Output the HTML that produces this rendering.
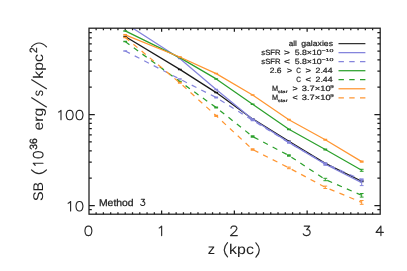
<!DOCTYPE html>
<html><head><meta charset="utf-8"><title>plot</title>
<style>
html,body{margin:0;padding:0;background:#fff;}
body{width:407px;height:271px;overflow:hidden;}
svg{display:block;will-change:transform;}
text{font-family:"Liberation Sans",sans-serif;fill:#222;text-rendering:geometricPrecision;}
</style></head><body>
<svg width="407" height="271" viewBox="0 0 407 271">
<rect x="0" y="0" width="407" height="271" fill="#ffffff"/>
<defs><clipPath id="c"><rect x="88.8" y="28.2" width="291.4" height="186.0"/></clipPath></defs>
<g clip-path="url(#c)" fill="none" stroke-linejoin="round">
<polyline points="125.2,36.5 179.8,69.4 216.2,92.6 252.6,118.9 288.9,141.2 325.3,163.4 361.7,181.3" stroke="#1a1a1a" stroke-width="1.25"/>
<path d="M123.3 36.5H127.1" stroke="#1a1a1a" stroke-width="1.5"/>
<path d="M177.9 69.4H181.7" stroke="#1a1a1a" stroke-width="1.5"/>
<path d="M214.3 92.6H218.1" stroke="#1a1a1a" stroke-width="1.5"/>
<path d="M250.7 118.9H254.5" stroke="#1a1a1a" stroke-width="1.5"/>
<path d="M287.0 141.2H290.8" stroke="#1a1a1a" stroke-width="1.5"/>
<path d="M323.4 163.4H327.2" stroke="#1a1a1a" stroke-width="1.5"/>
<path d="M359.8 181.3H363.6" stroke="#1a1a1a" stroke-width="2.1"/>
<polyline points="125.2,23.3 179.8,58.5 216.2,89.5 252.6,119.3 288.9,142.4 325.3,164.3 361.7,182.6" stroke="#8484dc" stroke-width="1.25"/>
<path d="M123.3 23.3H127.1" stroke="#8484dc" stroke-width="1.5"/>
<path d="M177.9 58.5H181.7" stroke="#8484dc" stroke-width="1.5"/>
<path d="M214.3 89.5H218.1" stroke="#8484dc" stroke-width="1.5"/>
<path d="M250.7 119.3H254.5" stroke="#8484dc" stroke-width="2.0"/>
<path d="M287.0 142.4H290.8" stroke="#8484dc" stroke-width="2.1"/>
<path d="M325.3 163.3V165.3M323.4 163.3H327.2M323.4 165.3H327.2" stroke="#8484dc" stroke-width="1"/>
<path d="M361.7 179.6V185.6M359.8 179.6H363.6M359.8 185.6H363.6" stroke="#8484dc" stroke-width="1"/>
<polyline points="125.2,51.0 179.8,79.1 216.2,97.5 252.6,120.3 288.9,142.6 325.3,163.6 361.7,179.9" stroke="#8484dc" stroke-width="1.25" stroke-dasharray="5.3 5.38"/>
<path d="M123.3 51.0H127.1" stroke="#8484dc" stroke-width="1.5"/>
<path d="M177.9 79.1H181.7" stroke="#8484dc" stroke-width="1.5"/>
<path d="M214.3 97.5H218.1" stroke="#8484dc" stroke-width="2.0"/>
<path d="M250.7 120.3H254.5" stroke="#8484dc" stroke-width="2.0"/>
<path d="M287.0 142.6H290.8" stroke="#8484dc" stroke-width="2.0"/>
<path d="M323.4 163.6H327.2" stroke="#8484dc" stroke-width="2.3"/>
<path d="M361.7 178.9V180.9M359.8 178.9H363.6M359.8 180.9H363.6" stroke="#8484dc" stroke-width="1"/>
<polyline points="125.2,30.9 179.8,57.6 216.2,78.9 252.6,104.3 288.9,129.3 325.3,149.5 361.7,170.3" stroke="#2ca02c" stroke-width="1.25"/>
<path d="M123.3 30.9H127.1" stroke="#2ca02c" stroke-width="1.5"/>
<path d="M177.9 57.6H181.7" stroke="#2ca02c" stroke-width="1.5"/>
<path d="M214.3 78.9H218.1" stroke="#2ca02c" stroke-width="1.5"/>
<path d="M250.7 104.3H254.5" stroke="#2ca02c" stroke-width="1.5"/>
<path d="M287.0 129.3H290.8" stroke="#2ca02c" stroke-width="1.8"/>
<path d="M323.4 149.5H327.2" stroke="#2ca02c" stroke-width="2.1"/>
<path d="M361.7 169.3V171.3M359.8 169.3H363.6M359.8 171.3H363.6" stroke="#2ca02c" stroke-width="1"/>
<polyline points="125.2,41.5 179.8,81.5 216.2,107.6 252.6,136.5 288.9,155.5 325.3,179.5 361.7,195.3" stroke="#2ca02c" stroke-width="1.25" stroke-dasharray="5.3 5.38"/>
<path d="M123.3 41.5H127.1" stroke="#2ca02c" stroke-width="1.5"/>
<path d="M177.9 81.5H181.7" stroke="#2ca02c" stroke-width="1.5"/>
<path d="M214.3 107.6H218.1" stroke="#2ca02c" stroke-width="2.0"/>
<path d="M250.7 136.5H254.5" stroke="#2ca02c" stroke-width="2.3"/>
<path d="M287.0 155.5H290.8" stroke="#2ca02c" stroke-width="2.5"/>
<path d="M325.3 178.3V180.7M323.4 178.3H327.2M323.4 180.7H327.2" stroke="#2ca02c" stroke-width="1"/>
<path d="M361.7 193.5V197.1M359.8 193.5H363.6M359.8 197.1H363.6" stroke="#2ca02c" stroke-width="1"/>
<polyline points="125.2,34.8 179.8,57.0 216.2,73.6 252.6,95.0 288.9,119.7 325.3,139.7 361.7,161.6" stroke="#ff9632" stroke-width="1.25"/>
<path d="M123.3 34.8H127.1" stroke="#ff9632" stroke-width="1.5"/>
<path d="M177.9 57.0H181.7" stroke="#ff9632" stroke-width="1.5"/>
<path d="M214.3 73.6H218.1" stroke="#ff9632" stroke-width="1.5"/>
<path d="M250.7 95.0H254.5" stroke="#ff9632" stroke-width="1.5"/>
<path d="M287.0 119.7H290.8" stroke="#ff9632" stroke-width="1.8"/>
<path d="M323.4 139.7H327.2" stroke="#ff9632" stroke-width="2.0"/>
<path d="M359.8 161.6H363.6" stroke="#ff9632" stroke-width="2.3"/>
<polyline points="125.2,37.4 179.8,82.8 216.2,115.8 252.6,149.5 288.9,167.9 325.3,187.3 361.7,202.4" stroke="#ff9632" stroke-width="1.25" stroke-dasharray="5.3 5.38"/>
<path d="M123.3 37.4H127.1" stroke="#ff9632" stroke-width="1.5"/>
<path d="M177.9 82.8H181.7" stroke="#ff9632" stroke-width="2.0"/>
<path d="M214.3 115.8H218.1" stroke="#ff9632" stroke-width="2.3"/>
<path d="M250.7 149.5H254.5" stroke="#ff9632" stroke-width="2.5"/>
<path d="M288.9 167.1V168.7M287.0 167.1H290.8M287.0 168.7H290.8" stroke="#ff9632" stroke-width="1"/>
<path d="M325.3 186.1V188.5M323.4 186.1H327.2M323.4 188.5H327.2" stroke="#ff9632" stroke-width="1"/>
<path d="M361.7 200.5V204.3M359.8 200.5H363.6M359.8 204.3H363.6" stroke="#ff9632" stroke-width="1"/>
</g>
<g stroke="#1c1c1c" stroke-width="1.25" fill="none">
<rect x="89.00" y="28.20" width="291.20" height="186.00"/>
<path d="M96.13 214.2v-2.0M96.13 28.2v2.0M103.40 214.2v-2.0M103.40 28.2v2.0M110.68 214.2v-2.0M110.68 28.2v2.0M117.95 214.2v-2.0M117.95 28.2v2.0M125.23 214.2v-2.0M125.23 28.2v2.0M132.51 214.2v-2.0M132.51 28.2v2.0M139.78 214.2v-2.0M139.78 28.2v2.0M147.06 214.2v-2.0M147.06 28.2v2.0M154.34 214.2v-2.0M154.34 28.2v2.0M161.61 214.2v-3.6M161.61 28.2v3.6M168.89 214.2v-2.0M168.89 28.2v2.0M176.16 214.2v-2.0M176.16 28.2v2.0M183.44 214.2v-2.0M183.44 28.2v2.0M190.72 214.2v-2.0M190.72 28.2v2.0M197.99 214.2v-2.0M197.99 28.2v2.0M205.27 214.2v-2.0M205.27 28.2v2.0M212.55 214.2v-2.0M212.55 28.2v2.0M219.82 214.2v-2.0M219.82 28.2v2.0M227.10 214.2v-2.0M227.10 28.2v2.0M234.37 214.2v-3.6M234.37 28.2v3.6M241.65 214.2v-2.0M241.65 28.2v2.0M248.93 214.2v-2.0M248.93 28.2v2.0M256.20 214.2v-2.0M256.20 28.2v2.0M263.48 214.2v-2.0M263.48 28.2v2.0M270.76 214.2v-2.0M270.76 28.2v2.0M278.03 214.2v-2.0M278.03 28.2v2.0M285.31 214.2v-2.0M285.31 28.2v2.0M292.58 214.2v-2.0M292.58 28.2v2.0M299.86 214.2v-2.0M299.86 28.2v2.0M307.14 214.2v-3.6M307.14 28.2v3.6M314.41 214.2v-2.0M314.41 28.2v2.0M321.69 214.2v-2.0M321.69 28.2v2.0M328.97 214.2v-2.0M328.97 28.2v2.0M336.24 214.2v-2.0M336.24 28.2v2.0M343.52 214.2v-2.0M343.52 28.2v2.0M350.79 214.2v-2.0M350.79 28.2v2.0M358.07 214.2v-2.0M358.07 28.2v2.0M365.35 214.2v-2.0M365.35 28.2v2.0M372.62 214.2v-2.0M372.62 28.2v2.0M89.0 209.66h2.8M380.2 209.66h-2.8M89.0 205.50h5.8M380.2 205.50h-5.8M89.0 178.14h2.8M380.2 178.14h-2.8M89.0 162.13h2.8M380.2 162.13h-2.8M89.0 150.77h2.8M380.2 150.77h-2.8M89.0 141.96h2.8M380.2 141.96h-2.8M89.0 134.77h2.8M380.2 134.77h-2.8M89.0 128.68h2.8M380.2 128.68h-2.8M89.0 123.41h2.8M380.2 123.41h-2.8M89.0 118.76h2.8M380.2 118.76h-2.8M89.0 114.60h5.8M380.2 114.60h-5.8M89.0 87.24h2.8M380.2 87.24h-2.8M89.0 71.23h2.8M380.2 71.23h-2.8M89.0 59.87h2.8M380.2 59.87h-2.8M89.0 51.06h2.8M380.2 51.06h-2.8M89.0 43.87h2.8M380.2 43.87h-2.8M89.0 37.78h2.8M380.2 37.78h-2.8M89.0 32.51h2.8M380.2 32.51h-2.8"/>
</g>
<path d="M87.91 226.10L86.44 226.55L85.46 227.90L84.97 230.15L84.97 231.50L85.46 233.75L86.44 235.10L87.91 235.55L88.89 235.55L90.36 235.10L91.34 233.75L91.83 231.50L91.83 230.15L91.34 227.90L90.36 226.55L88.89 226.10L87.91 226.10" fill="none" stroke="#2a2a2a" stroke-width="1.15" stroke-linejoin="round" stroke-linecap="round"/>
<path d="M159.20 227.90L160.18 227.45L161.65 226.10L161.65 235.55" fill="none" stroke="#2a2a2a" stroke-width="1.15" stroke-linejoin="round" stroke-linecap="round"/>
<path d="M230.98 228.35L230.98 227.90L231.47 227.00L231.96 226.55L232.94 226.10L234.90 226.10L235.88 226.55L236.37 227.00L236.86 227.90L236.86 228.80L236.37 229.70L235.39 231.05L230.49 235.55L237.35 235.55" fill="none" stroke="#2a2a2a" stroke-width="1.15" stroke-linejoin="round" stroke-linecap="round"/>
<path d="M304.24 226.10L309.63 226.10L306.69 229.70L308.16 229.70L309.14 230.15L309.63 230.60L310.12 231.95L310.12 232.85L309.63 234.20L308.65 235.10L307.18 235.55L305.71 235.55L304.24 235.10L303.75 234.65L303.26 233.75" fill="none" stroke="#2a2a2a" stroke-width="1.15" stroke-linejoin="round" stroke-linecap="round"/>
<path d="M380.92 226.10L376.02 232.40L383.37 232.40M380.92 226.10L380.92 235.55" fill="none" stroke="#2a2a2a" stroke-width="1.15" stroke-linejoin="round" stroke-linecap="round"/>
<path d="M58.55 112.10L59.53 111.65L61.00 110.30L61.00 119.75" fill="none" stroke="#2a2a2a" stroke-width="1.15" stroke-linejoin="round" stroke-linecap="round"/>
<path d="M69.21 110.30L67.74 110.75L66.76 112.10L66.27 114.35L66.27 115.70L66.76 117.95L67.74 119.30L69.21 119.75L70.19 119.75L71.66 119.30L72.64 117.95L73.13 115.70L73.13 114.35L72.64 112.10L71.66 110.75L70.19 110.30L69.21 110.30" fill="none" stroke="#2a2a2a" stroke-width="1.15" stroke-linejoin="round" stroke-linecap="round"/>
<path d="M79.01 110.30L77.54 110.75L76.56 112.10L76.07 114.35L76.07 115.70L76.56 117.95L77.54 119.30L79.01 119.75L79.99 119.75L81.46 119.30L82.44 117.95L82.93 115.70L82.93 114.35L82.44 112.10L81.46 110.75L79.99 110.30L79.01 110.30" fill="none" stroke="#2a2a2a" stroke-width="1.15" stroke-linejoin="round" stroke-linecap="round"/>
<path d="M68.15 203.30L69.13 202.85L70.60 201.50L70.60 210.95" fill="none" stroke="#2a2a2a" stroke-width="1.15" stroke-linejoin="round" stroke-linecap="round"/>
<path d="M78.96 201.50L77.49 201.95L76.51 203.30L76.02 205.55L76.02 206.90L76.51 209.15L77.49 210.50L78.96 210.95L79.94 210.95L81.41 210.50L82.39 209.15L82.88 206.90L82.88 205.55L82.39 203.30L81.41 201.95L79.94 201.50L78.96 201.50" fill="none" stroke="#2a2a2a" stroke-width="1.15" stroke-linejoin="round" stroke-linecap="round"/>
<text x="207.71" y="254.30" font-size="14" textLength="7.32" lengthAdjust="spacingAndGlyphs">z</text>
<path d="M227.55 242.60Q221.05 249.75 227.55 256.90" fill="none" stroke="#2a2a2a" stroke-width="1.20" stroke-linecap="round"/>
<text x="229.13" y="254.30" font-size="14" textLength="24.79" lengthAdjust="spacingAndGlyphs">kpc</text>
<path d="M255.90 242.80Q262.70 249.95 255.90 257.10" fill="none" stroke="#2a2a2a" stroke-width="1.20" stroke-linecap="round"/>
<g transform="translate(42.8,200.4) rotate(-90)">
<text x="-0.65" y="0.00" font-size="14" textLength="19.11" lengthAdjust="spacingAndGlyphs">SB</text>
<text x="50.71" y="-5.70" font-size="10.5" textLength="11.44" lengthAdjust="spacingAndGlyphs" stroke="#222" stroke-width="0.3">36</text>
<text x="69.93" y="0.00" font-size="14" textLength="22.68" lengthAdjust="spacingAndGlyphs">erg</text>
<text x="104.26" y="0.00" font-size="14" textLength="6.19" lengthAdjust="spacingAndGlyphs">s</text>
<text x="121.74" y="0.00" font-size="14" textLength="24.58" lengthAdjust="spacingAndGlyphs">kpc</text>
<text x="147.39" y="-5.70" font-size="10.5" textLength="5.62" lengthAdjust="spacingAndGlyphs" stroke="#222" stroke-width="0.3">2</text>
<path d="M30.50 -11.30Q22.90 -3.80 30.50 3.70" fill="none" stroke="#2a2a2a" stroke-width="1.20" stroke-linecap="round"/>
<path d="M153.50 -11.30Q161.30 -3.80 153.50 3.70" fill="none" stroke="#2a2a2a" stroke-width="1.20" stroke-linecap="round"/>
<path d="M34.92 -7.65L35.81 -8.12L37.15 -9.50L37.15 0.20" fill="none" stroke="#2a2a2a" stroke-width="1.15" stroke-linejoin="round" stroke-linecap="round"/>
<path d="M45.16 -9.50L43.82 -9.04L42.93 -7.65L42.48 -5.34L42.48 -3.96L42.93 -1.65L43.82 -0.26L45.16 0.20L46.05 0.20L47.38 -0.26L48.27 -1.65L48.71 -3.96L48.71 -5.34L48.27 -7.65L47.38 -9.04L46.05 -9.50L45.16 -9.50" fill="none" stroke="#2a2a2a" stroke-width="1.15" stroke-linejoin="round" stroke-linecap="round"/>
<path d="M93.2 4.0L103.0 -11.5" stroke="#2a2a2a" stroke-width="1.2" fill="none"/>
<path d="M111.4 4.0L121.0 -11.5" stroke="#2a2a2a" stroke-width="1.2" fill="none"/>
</g>
<text x="98.95" y="206.00" font-size="9.8" textLength="34.73" lengthAdjust="spacingAndGlyphs" stroke="#222" stroke-width="0.25">Method</text>
<path d="M141.25 199.25L144.55 199.25L142.75 201.65L143.65 201.65L144.25 201.95L144.55 202.25L144.85 203.15L144.85 203.75L144.55 204.65L143.95 205.25L143.05 205.55L142.15 205.55L141.25 205.25L140.95 204.95L140.65 204.35" fill="none" stroke="#2a2a2a" stroke-width="1.05" stroke-linejoin="round" stroke-linecap="round"/>
<path d="M338.5 43.62H365.4" stroke="#333333" stroke-width="1.25" fill="none"/>
<text x="288.65" y="46.12" font-size="7.6" textLength="8.20" lengthAdjust="spacingAndGlyphs" stroke="#222" stroke-width="0.22">all</text>
<text x="301.24" y="46.12" font-size="7.6" textLength="31.78" lengthAdjust="spacingAndGlyphs" stroke="#222" stroke-width="0.22">galaxies</text>
<path d="M338.5 52.65H365.4" stroke="#8484dc" stroke-width="1.25" fill="none"/>
<text x="261.29" y="55.15" font-size="7.6" textLength="19.27" lengthAdjust="spacingAndGlyphs" stroke="#222" stroke-width="0.22">sSFR</text>
<text x="284.00" y="55.15" font-size="7.6" textLength="5.89" lengthAdjust="spacingAndGlyphs" stroke="#222" stroke-width="0.22">&gt;</text>
<text x="294.65" y="55.15" font-size="7.6" textLength="26.99" lengthAdjust="spacingAndGlyphs" stroke="#222" stroke-width="0.22">5.8×10</text>
<text x="321.45" y="51.55" font-size="4.3" textLength="12.03" lengthAdjust="spacingAndGlyphs" stroke="#222" stroke-width="0.20">−10</text>
<path d="M338.5 61.68H365.4" stroke="#8484dc" stroke-width="1.25" fill="none" stroke-dasharray="5.4 5.35"/>
<text x="261.29" y="64.18" font-size="7.6" textLength="19.27" lengthAdjust="spacingAndGlyphs" stroke="#222" stroke-width="0.22">sSFR</text>
<text x="284.00" y="64.18" font-size="7.6" textLength="5.89" lengthAdjust="spacingAndGlyphs" stroke="#222" stroke-width="0.22">&lt;</text>
<text x="294.65" y="64.18" font-size="7.6" textLength="26.99" lengthAdjust="spacingAndGlyphs" stroke="#222" stroke-width="0.22">5.8×10</text>
<text x="321.45" y="60.58" font-size="4.3" textLength="12.03" lengthAdjust="spacingAndGlyphs" stroke="#222" stroke-width="0.20">−10</text>
<path d="M338.5 70.71H365.4" stroke="#2ca02c" stroke-width="1.25" fill="none"/>
<text x="269.77" y="73.21" font-size="7.6" textLength="11.80" lengthAdjust="spacingAndGlyphs" stroke="#222" stroke-width="0.22">2.6</text>
<text x="287.06" y="73.21" font-size="7.6" textLength="5.17" lengthAdjust="spacingAndGlyphs" stroke="#222" stroke-width="0.22">&gt;</text>
<text x="296.37" y="73.21" font-size="7.6" textLength="4.68" lengthAdjust="spacingAndGlyphs" stroke="#222" stroke-width="0.22">C</text>
<text x="305.63" y="73.21" font-size="7.6" textLength="5.53" lengthAdjust="spacingAndGlyphs" stroke="#222" stroke-width="0.22">&gt;</text>
<text x="315.56" y="73.21" font-size="7.6" textLength="16.99" lengthAdjust="spacingAndGlyphs" stroke="#222" stroke-width="0.22">2.44</text>
<path d="M338.5 79.74H365.4" stroke="#2ca02c" stroke-width="1.25" fill="none" stroke-dasharray="5.4 5.35"/>
<text x="296.37" y="82.24" font-size="7.6" textLength="4.68" lengthAdjust="spacingAndGlyphs" stroke="#222" stroke-width="0.22">C</text>
<text x="305.63" y="82.24" font-size="7.6" textLength="5.53" lengthAdjust="spacingAndGlyphs" stroke="#222" stroke-width="0.22">&lt;</text>
<text x="315.56" y="82.24" font-size="7.6" textLength="16.99" lengthAdjust="spacingAndGlyphs" stroke="#222" stroke-width="0.22">2.44</text>
<path d="M338.5 88.77H365.4" stroke="#ff9632" stroke-width="1.25" fill="none"/>
<text x="272.10" y="91.27" font-size="7.6" textLength="6.10" lengthAdjust="spacingAndGlyphs" stroke="#222" stroke-width="0.22">M</text>
<text x="277.84" y="92.87" font-size="4.2" textLength="9.76" lengthAdjust="spacingAndGlyphs" stroke="#222" stroke-width="0.20">star</text>
<text x="292.56" y="91.27" font-size="7.6" textLength="5.17" lengthAdjust="spacingAndGlyphs" stroke="#222" stroke-width="0.22">&gt;</text>
<text x="301.84" y="91.27" font-size="7.6" textLength="28.82" lengthAdjust="spacingAndGlyphs" stroke="#222" stroke-width="0.22">3.7×10</text>
<text x="330.31" y="87.77" font-size="4.3" textLength="3.49" lengthAdjust="spacingAndGlyphs" stroke="#222" stroke-width="0.20">9</text>
<path d="M338.5 97.80H365.4" stroke="#ff9632" stroke-width="1.25" fill="none" stroke-dasharray="5.4 5.35"/>
<text x="272.10" y="100.30" font-size="7.6" textLength="6.10" lengthAdjust="spacingAndGlyphs" stroke="#222" stroke-width="0.22">M</text>
<text x="277.84" y="101.90" font-size="4.2" textLength="9.76" lengthAdjust="spacingAndGlyphs" stroke="#222" stroke-width="0.20">star</text>
<text x="292.56" y="100.30" font-size="7.6" textLength="5.17" lengthAdjust="spacingAndGlyphs" stroke="#222" stroke-width="0.22">&lt;</text>
<text x="301.84" y="100.30" font-size="7.6" textLength="28.82" lengthAdjust="spacingAndGlyphs" stroke="#222" stroke-width="0.22">3.7×10</text>
<text x="330.31" y="96.80" font-size="4.3" textLength="3.49" lengthAdjust="spacingAndGlyphs" stroke="#222" stroke-width="0.20">9</text>
</svg>
</body></html>
